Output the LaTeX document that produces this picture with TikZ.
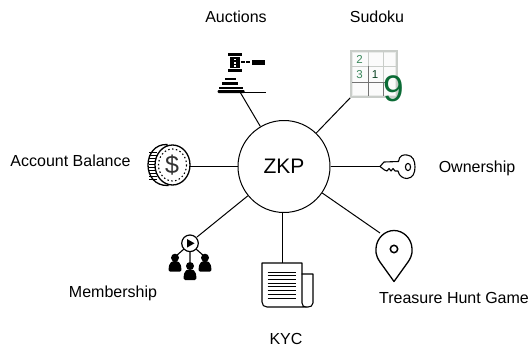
\documentclass[tikz,border=0pt]{standalone}
\usepackage{fontspec}
\setmainfont{Liberation Sans}
\definecolor{sudokugreen}{HTML}{0B6B35}
\definecolor{gridgrey}{HTML}{C9CDC9}
\tikzset{
  lbl/.style={font=\fontsize{16}{18}\selectfont,text=black,inner sep=0pt},
  link/.style={draw=black,line width=1pt},
  icon/.style={draw=black,line width=1.2pt,line join=round,line cap=round},
  sudokudigit/.style={font=\fontsize{11.5}{12}\selectfont,text=sudokugreen!80,inner sep=0pt}
}
\begin{document}
\begin{tikzpicture}[x=1pt,y=-1pt]
\useasboundingbox (0,0) rectangle (529,348);
\fill[white] (0,0) rectangle (529,348);

% central node
\node[circle,draw=black,line width=1pt,minimum size=92pt,inner sep=0pt,font=\fontsize{21}{23}\selectfont] (zkp) at (284,166.5) {ZKP};

% connector ends
\coordinate (auctionsEnd) at (240,92);
\coordinate (sudokuEnd) at (351,97);
\coordinate (keyEnd) at (380,166.5);
\coordinate (coinEnd) at (190,166.5);
\coordinate (memberEnd) at (197,237);
\coordinate (kycEnd) at (282,263);
\coordinate (pinEnd) at (380,233);

\draw[link] (zkp) -- (auctionsEnd);
\draw[link] (zkp) -- (sudokuEnd);
\draw[link] (zkp) -- (keyEnd);
\draw[link] (zkp) -- (coinEnd);
\draw[link] (zkp) -- (memberEnd);
\draw[link] (kycEnd |- zkp.south) -- (kycEnd);
\draw[link] (zkp) -- (pinEnd);

% gavel
\fill (228,53) rectangle (242,55.5);
\fill (228,69.3) rectangle (242,72.3);
\fill (229.5,56.5) rectangle (240,68.3);
\foreach \yy in {58.8,62,65.2} \fill[white] (233.7,\yy) rectangle (235.7,\yy+1.6);
\fill (241,61.3) rectangle (245,63.2);
\fill (246,61.3) rectangle (250,63.2);
\fill (251.5,60.2) rectangle (265,64.8);
\fill (225,78) rectangle (236,80);
\fill (222,81.5) rectangle (238,85);
\fill (218.5,86.5) rectangle (243,89);
\fill[rounded corners=1pt] (217.5,90) rectangle (244.5,93);
\fill[white] (218,88.7) rectangle (234,89.6);
\draw[line width=0.9pt] (244,92.2) -- (265.5,92.2);

% sudoku
\fill[gridgrey!40] (351,51) rectangle (397,97);
\fill[white!92!gridgrey] (353,53) rectangle (395,95);
\draw[gridgrey,line width=1.2pt] (351,51) rectangle (397,97);
\draw[gridgrey,line width=1pt] (368,52) -- (368,66) (383,52) -- (383,82) (352,66) -- (396,66);
\draw[black!55,line width=1pt] (368,66) -- (368,96) (383,82) -- (383,96) (352,82) -- (385,82);
\node[sudokudigit] (dA) at (359.5,59) {2};
\node[sudokudigit] (dB) at (359.5,74.5) {3};
\node[sudokudigit,text=sudokugreen!60!black] (dC) at (375,74.5) {1};
\node[font=\fontsize{37}{38}\selectfont,text=sudokugreen,inner sep=0pt] (dD) at (393.5,88.5) {9};

% key
\draw[icon,line width=1.1pt,fill=white]
  (380,166.5) -- (384,162) -- (398.5,161.5)
  .. controls (399,155) and (404,154.5) .. (407,155)
  .. controls (413,155.5) and (415,161) .. (415,167)
  .. controls (415,173) and (413,178) .. (407,178.5)
  .. controls (403,178.5) and (399,176) .. (398,171)
  -- (395,171) -- (393,168.5) -- (391,171) -- (389,168.5) -- (387,171) -- (384.5,170) -- cycle;
\draw[line width=1.1pt] (408,167) ellipse (2.6 and 3.6);

% coin
\draw[line width=1.3pt,fill=white] (167,144.5) .. controls (155,144) and (148,154) .. (148,165) .. controls (148,176) and (155,186) .. (168,185.5) -- cycle;
\foreach \yy in {152,155,158,161,164,167,170,173,176,179}
  \draw[line width=1pt] (149,\yy) -- (156.5,\yy);
\draw[line width=1.3pt,fill=white] (172.5,165) ellipse (17.5 and 20);
\draw[line width=1.1pt,dash pattern=on 1.5pt off 2.4pt] (172.5,165) ellipse (14 and 16);
\node[font=\fontsize{25}{26}\selectfont,inner sep=0pt,text=black!80] (dollar) at (172,165) {\$};

% membership
\draw[line width=1.1pt] (190,251) -- (190,262) (184,249) -- (176,256) (196,249) -- (204,256);
\draw[line width=1.2pt,fill=white] (190,243.3) circle (8.3);
\fill (187,239) -- (194.5,243.3) -- (187,247.6) -- cycle;
\foreach \px/\py in {175/257.7,190/266,205/257.7}{
  \fill (\px,\py) circle (4);
  \fill[rounded corners=1.5pt] (\px-6.3,\py+14) -- (\px-6.3,\py+9) .. controls (\px-5,\py+4.5) and (\px-3,\py+3.5) .. (\px,\py+3.5) .. controls (\px+3,\py+3.5) and (\px+5,\py+4.5) .. (\px+6.3,\py+9) -- (\px+6.3,\py+14) -- cycle;
}

% newspaper
\draw[icon,line width=1.1pt,fill=white]
  (262,263) -- (302,263) -- (302,303) .. controls (302,306) and (304,307) .. (306,307)
  -- (267,307) .. controls (264,307) and (262,305) .. (262,302) -- cycle;
\draw[icon,line width=1.1pt] (302,274) -- (313,274) -- (313,303) .. controls (313,306) and (310,307) .. (308,307) -- (306,307);
\foreach \yy in {272,275.7,279.4,283.1,286.8,290.5,294.2,298.5}
  \draw[line width=1pt] (267.5,\yy) -- (296,\yy);

% pin
\draw[icon,line width=1.3pt,fill=white] (394,281.5) -- (380,262)
  .. controls (375,255) and (376,250) .. (376,248.5)
  .. controls (376.5,238) and (385,230.5) .. (394,230.5)
  .. controls (403,230.5) and (411.5,238) .. (412,248.5)
  .. controls (412,250) and (413,255) .. (408,262) -- cycle;
\draw[line width=1.5pt] (394,249) circle (3.7);

% labels
\node[lbl] (tAuctions) at (236,17) {Auctions};
\node[lbl] (tSudoku) at (377,17) {Sudoku};
\node[lbl] (tBalance) at (70.5,161) {Account Balance};
\node[lbl] (tOwnership) at (477,168) {Ownership};
\node[lbl] (tMembership) at (113,293.5) {Membership};
\node[lbl] (tTreasure) at (454,298) {Treasure Hunt Game};
\node[lbl] (tKYC) at (286,339) {KYC};
\end{tikzpicture}
\end{document}
